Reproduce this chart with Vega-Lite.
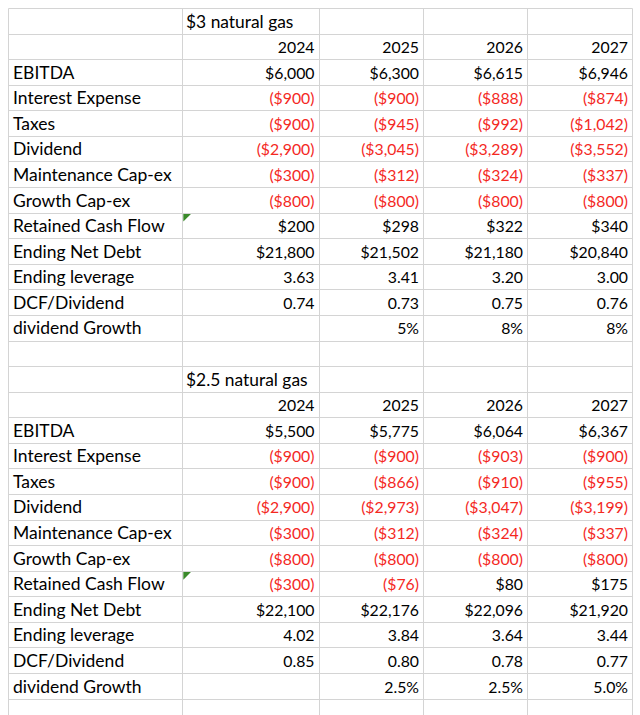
{
  "$schema": "https://vega.github.io/schema/vega-lite/v6.json",
  "width": 640,
  "height": 715,
  "padding": 0,
  "autosize": {"type": "none"},
  "background": "white",
  "config": {
    "view": {"stroke": null},
    "text": {"font": "Lato", "fontSize": 16, "color": "#000000"}
  },
  "datasets": {
    "labels": [
      {"row": 2, "text": "EBITDA"},
      {"row": 3, "text": "Interest Expense"},
      {"row": 4, "text": "Taxes"},
      {"row": 5, "text": "Dividend"},
      {"row": 6, "text": "Maintenance Cap-ex"},
      {"row": 7, "text": "Growth Cap-ex"},
      {"row": 8, "text": "Retained Cash Flow"},
      {"row": 9, "text": "Ending Net Debt"},
      {"row": 10, "text": "Ending leverage"},
      {"row": 11, "text": "DCF/Dividend"},
      {"row": 12, "text": "dividend Growth"},
      {"row": 16, "text": "EBITDA"},
      {"row": 17, "text": "Interest Expense"},
      {"row": 18, "text": "Taxes"},
      {"row": 19, "text": "Dividend"},
      {"row": 20, "text": "Maintenance Cap-ex"},
      {"row": 21, "text": "Growth Cap-ex"},
      {"row": 22, "text": "Retained Cash Flow"},
      {"row": 23, "text": "Ending Net Debt"},
      {"row": 24, "text": "Ending leverage"},
      {"row": 25, "text": "DCF/Dividend"},
      {"row": 26, "text": "dividend Growth"}
    ],
    "titles": [
      {"row": 0, "text": "$3 natural gas"},
      {"row": 14, "text": "$2.5 natural gas"}
    ],
    "flags": [
      {"row": 8},
      {"row": 22}
    ],
    "cells": [
      {"row": 1, "year": 2024, "text": "2024"},
      {"row": 1, "year": 2025, "text": "2025"},
      {"row": 1, "year": 2026, "text": "2026"},
      {"row": 1, "year": 2027, "text": "2027"},
      {"row": 2, "year": 2024, "text": "$6,000\u00a0"},
      {"row": 2, "year": 2025, "text": "$6,300\u00a0"},
      {"row": 2, "year": 2026, "text": "$6,615\u00a0"},
      {"row": 2, "year": 2027, "text": "$6,946\u00a0"},
      {"row": 3, "year": 2024, "text": "($900)"},
      {"row": 3, "year": 2025, "text": "($900)"},
      {"row": 3, "year": 2026, "text": "($888)"},
      {"row": 3, "year": 2027, "text": "($874)"},
      {"row": 4, "year": 2024, "text": "($900)"},
      {"row": 4, "year": 2025, "text": "($945)"},
      {"row": 4, "year": 2026, "text": "($992)"},
      {"row": 4, "year": 2027, "text": "($1,042)"},
      {"row": 5, "year": 2024, "text": "($2,900)"},
      {"row": 5, "year": 2025, "text": "($3,045)"},
      {"row": 5, "year": 2026, "text": "($3,289)"},
      {"row": 5, "year": 2027, "text": "($3,552)"},
      {"row": 6, "year": 2024, "text": "($300)"},
      {"row": 6, "year": 2025, "text": "($312)"},
      {"row": 6, "year": 2026, "text": "($324)"},
      {"row": 6, "year": 2027, "text": "($337)"},
      {"row": 7, "year": 2024, "text": "($800)"},
      {"row": 7, "year": 2025, "text": "($800)"},
      {"row": 7, "year": 2026, "text": "($800)"},
      {"row": 7, "year": 2027, "text": "($800)"},
      {"row": 8, "year": 2024, "text": "$200\u00a0"},
      {"row": 8, "year": 2025, "text": "$298\u00a0"},
      {"row": 8, "year": 2026, "text": "$322\u00a0"},
      {"row": 8, "year": 2027, "text": "$340\u00a0"},
      {"row": 9, "year": 2024, "text": "$21,800\u00a0"},
      {"row": 9, "year": 2025, "text": "$21,502\u00a0"},
      {"row": 9, "year": 2026, "text": "$21,180\u00a0"},
      {"row": 9, "year": 2027, "text": "$20,840\u00a0"},
      {"row": 10, "year": 2024, "text": "3.63"},
      {"row": 10, "year": 2025, "text": "3.41"},
      {"row": 10, "year": 2026, "text": "3.20"},
      {"row": 10, "year": 2027, "text": "3.00"},
      {"row": 11, "year": 2024, "text": "0.74\u00a0"},
      {"row": 11, "year": 2025, "text": "0.73\u00a0"},
      {"row": 11, "year": 2026, "text": "0.75\u00a0"},
      {"row": 11, "year": 2027, "text": "0.76\u00a0"},
      {"row": 12, "year": 2025, "text": "5%"},
      {"row": 12, "year": 2026, "text": "8%"},
      {"row": 12, "year": 2027, "text": "8%"},
      {"row": 15, "year": 2024, "text": "2024"},
      {"row": 15, "year": 2025, "text": "2025"},
      {"row": 15, "year": 2026, "text": "2026"},
      {"row": 15, "year": 2027, "text": "2027"},
      {"row": 16, "year": 2024, "text": "$5,500\u00a0"},
      {"row": 16, "year": 2025, "text": "$5,775\u00a0"},
      {"row": 16, "year": 2026, "text": "$6,064\u00a0"},
      {"row": 16, "year": 2027, "text": "$6,367\u00a0"},
      {"row": 17, "year": 2024, "text": "($900)"},
      {"row": 17, "year": 2025, "text": "($900)"},
      {"row": 17, "year": 2026, "text": "($903)"},
      {"row": 17, "year": 2027, "text": "($900)"},
      {"row": 18, "year": 2024, "text": "($900)"},
      {"row": 18, "year": 2025, "text": "($866)"},
      {"row": 18, "year": 2026, "text": "($910)"},
      {"row": 18, "year": 2027, "text": "($955)"},
      {"row": 19, "year": 2024, "text": "($2,900)"},
      {"row": 19, "year": 2025, "text": "($2,973)"},
      {"row": 19, "year": 2026, "text": "($3,047)"},
      {"row": 19, "year": 2027, "text": "($3,199)"},
      {"row": 20, "year": 2024, "text": "($300)"},
      {"row": 20, "year": 2025, "text": "($312)"},
      {"row": 20, "year": 2026, "text": "($324)"},
      {"row": 20, "year": 2027, "text": "($337)"},
      {"row": 21, "year": 2024, "text": "($800)"},
      {"row": 21, "year": 2025, "text": "($800)"},
      {"row": 21, "year": 2026, "text": "($800)"},
      {"row": 21, "year": 2027, "text": "($800)"},
      {"row": 22, "year": 2024, "text": "($300)"},
      {"row": 22, "year": 2025, "text": "($76)"},
      {"row": 22, "year": 2026, "text": "$80\u00a0"},
      {"row": 22, "year": 2027, "text": "$175\u00a0"},
      {"row": 23, "year": 2024, "text": "$22,100\u00a0"},
      {"row": 23, "year": 2025, "text": "$22,176\u00a0"},
      {"row": 23, "year": 2026, "text": "$22,096\u00a0"},
      {"row": 23, "year": 2027, "text": "$21,920\u00a0"},
      {"row": 24, "year": 2024, "text": "4.02"},
      {"row": 24, "year": 2025, "text": "3.84"},
      {"row": 24, "year": 2026, "text": "3.64"},
      {"row": 24, "year": 2027, "text": "3.44"},
      {"row": 25, "year": 2024, "text": "0.85\u00a0"},
      {"row": 25, "year": 2025, "text": "0.80\u00a0"},
      {"row": 25, "year": 2026, "text": "0.78\u00a0"},
      {"row": 25, "year": 2027, "text": "0.77\u00a0"},
      {"row": 26, "year": 2025, "text": "2.5%"},
      {"row": 26, "year": 2026, "text": "2.5%"},
      {"row": 26, "year": 2027, "text": "5.0%"}
    ]
  },
  "encoding": {
    "y": {
      "field": "row",
      "type": "quantitative",
      "scale": {"domain": [0, 28], "range": [8, 724.2], "nice": false, "zero": false},
      "axis": {
        "values": [0,1,2,3,4,5,6,7,8,9,10,11,12,13,14,15,16,17,18,19,20,21,22,23,24,25,26,27],
        "grid": true, "gridColor": "#d4d4d4", "gridWidth": 1,
        "labels": false, "ticks": false, "domain": false, "title": null
      }
    }
  },
  "layer": [
    {
      "data": {"name": "cells"},
      "mark": {"type": "text", "align": "right", "baseline": "alphabetic", "dx": -4, "dy": 19.5, "fontSize": 15.8},
      "encoding": {
        "x": {
          "field": "year",
          "type": "quantitative",
          "scale": {"domain": [2022, 2023, 2024, 2025, 2026, 2027], "range": [8, 182, 318.5, 423, 527, 632], "nice": false, "zero": false},
          "axis": {
            "orient": "top",
            "values": [2022, 2023, 2024, 2025, 2026, 2027],
            "grid": true, "gridColor": "#d4d4d4", "gridWidth": 1,
            "labels": false, "ticks": false, "domain": false, "title": null
          }
        },
        "text": {"field": "text"},
        "color": {
          "condition": {"test": "indexof(datum.text, '(') === 0", "value": "#f4291f"},
          "value": "#000000"
        }
      }
    },
    {
      "data": {"name": "labels"},
      "mark": {"type": "text", "align": "left", "baseline": "alphabetic", "dx": 5, "dy": 19.5, "fontSize": 17.5},
      "encoding": {
        "x": {"datum": 2022, "type": "quantitative"},
        "text": {"field": "text"}
      }
    },
    {
      "data": {"name": "titles"},
      "mark": {"type": "text", "align": "left", "baseline": "alphabetic", "dx": 4, "dy": 19.5, "fontSize": 17.4},
      "encoding": {
        "x": {"datum": 2023, "type": "quantitative"},
        "text": {"field": "text"}
      }
    },
    {
      "data": {"name": "flags"},
      "mark": {"type": "point", "shape": "M0.3,0.3 L2,0.3 L0.3,2 Z", "size": 80, "filled": true, "fill": "#3a8a2a", "strokeWidth": 0, "opacity": 1},
      "encoding": {
        "x": {"datum": 2023, "type": "quantitative"}
      }
    }
  ]
}
